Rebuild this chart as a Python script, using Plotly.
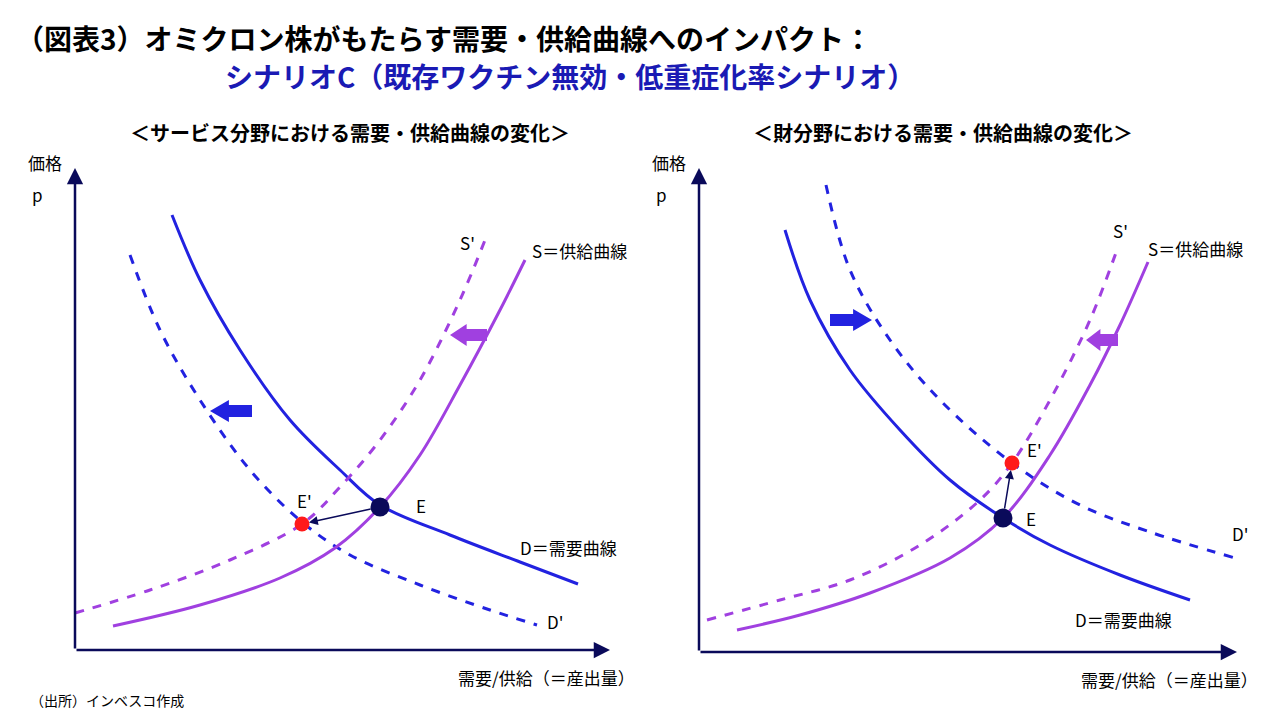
import plotly.graph_objects as go

FONT = "Noto Sans CJK JP"
BLUE = "#2222e0"
PURPLE = "#a040e0"
NAVY = "#0a0a5a"
TBLUE = "#1a1ab4"

# ---- curve data (page coordinates) ----
L_D_x = [172, 200, 240, 290, 340, 380, 450, 520, 578]
L_D_y = [215, 280, 350, 420, 470, 505, 535, 562, 584]
L_Dp_x = [130, 160, 200, 250, 302, 350, 420, 490, 537]
L_Dp_y = [255, 330, 400, 470, 522, 555, 585, 610, 625]
L_S_x = [113, 200, 280, 335, 380, 420, 460, 500, 525]
L_S_y = [626, 605, 578, 548, 507, 455, 385, 310, 260]
L_Sp_x = [75, 150, 230, 302, 340, 380, 420, 460, 487]
L_Sp_y = [613, 590, 560, 524, 487, 440, 380, 300, 235]

R_D_x = [785, 810, 850, 900, 950, 1003, 1050, 1120, 1190]
R_D_y = [230, 300, 370, 430, 480, 518, 545, 575, 600]
R_Dp_x = [826, 850, 890, 940, 1012, 1080, 1150, 1235]
R_Dp_y = [185, 270, 340, 400, 463, 505, 532, 558]
R_S_x = [737, 800, 870, 950, 1003, 1050, 1090, 1120, 1148]
R_S_y = [630, 615, 593, 558, 518, 455, 385, 325, 262]
R_Sp_x = [707, 780, 850, 920, 980, 1012, 1050, 1090, 1118]
R_Sp_y = [620, 600, 580, 545, 500, 463, 400, 320, 247]

E_pts = {"L_E": (380, 507), "L_Ep": (302, 524), "R_E": (1003, 518), "R_Ep": (1012, 463)}

# block arrows: (x_tail, x_head, y, color)
block_arrows = [(252, 210, 411, BLUE), (487, 450, 335, PURPLE),
                (830, 872, 320, BLUE), (1118, 1086, 340, PURPLE)]

fig = go.Figure()

def curve(x, y, color, dash):
    fig.add_trace(go.Scatter(x=x, y=y, mode="lines", line=dict(color=color, width=3, dash=dash, shape="spline", smoothing=1.0),
                             hoverinfo="skip", showlegend=False))

curve(L_D_x, L_D_y, BLUE, "solid")
curve(L_Dp_x, L_Dp_y, BLUE, "dash")
curve(L_S_x, L_S_y, PURPLE, "solid")
curve(L_Sp_x, L_Sp_y, PURPLE, "dash")
curve(R_D_x, R_D_y, BLUE, "solid")
curve(R_Dp_x, R_Dp_y, BLUE, "dash")
curve(R_S_x, R_S_y, PURPLE, "solid")
curve(R_Sp_x, R_Sp_y, PURPLE, "dash")

# axes arrows
for (x0, y0, x1, y1) in [(75, 650, 75, 168), (75, 650, 610, 650), (699, 652, 699, 168), (699, 652, 1237, 652)]:
    fig.add_annotation(x=x1, y=y1, ax=x0, ay=y0, xref="x", yref="y", axref="x", ayref="y",
                       showarrow=True, arrowhead=2, arrowsize=1.3, arrowwidth=2.5, arrowcolor=NAVY, text="")

# shift arrows between equilibria
for a, b in [("L_E", "L_Ep"), ("R_E", "R_Ep")]:
    (x0, y0), (x1, y1) = E_pts[a], E_pts[b]
    fig.add_annotation(x=x1, y=y1, ax=x0, ay=y0, xref="x", yref="y", axref="x", ayref="y",
                       showarrow=True, arrowhead=2, arrowsize=1.2, arrowwidth=1.5, arrowcolor=NAVY, text="",
                       standoff=7, startstandoff=8)

# equilibrium points
fig.add_trace(go.Scatter(x=[E_pts["L_E"][0], E_pts["R_E"][0]], y=[E_pts["L_E"][1], E_pts["R_E"][1]], mode="markers",
                         marker=dict(color=NAVY, size=19), hoverinfo="skip", showlegend=False))
fig.add_trace(go.Scatter(x=[E_pts["L_Ep"][0], E_pts["R_Ep"][0]], y=[E_pts["L_Ep"][1], E_pts["R_Ep"][1]], mode="markers",
                         marker=dict(color="#ff1a1a", size=15), hoverinfo="skip", showlegend=False))

# block arrows as polygons
for xt, xh, y, c in block_arrows:
    s = 1 if xh > xt else -1
    L = abs(xh - xt)
    hb = xh - s * L * 0.45
    pts = [(xt, y - 6), (hb, y - 6), (hb, y - 11), (xh, y), (hb, y + 11), (hb, y + 6), (xt, y + 6)]
    path = "M " + " L ".join(f"{px},{py}" for px, py in pts) + " Z"
    fig.add_shape(type="path", path=path, xref="x", yref="y", fillcolor=c, line=dict(width=0))

fig.add_shape(type="line", x0=0, x1=1290, y0=1, y1=1, xref="x", yref="y", line=dict(color="#888", width=1))

def txt(x, y, s, size=17, color="black", anchor="left", bold=False):
    if bold:
        s = "<b>" + s + "</b>"
    fig.add_annotation(x=x, y=y, text=s, showarrow=False, xref="x", yref="y", xanchor=anchor, yanchor="middle",
                       font=dict(family=FONT, size=size, color=color))

txt(14, 38, "（図表3）オミクロン株がもたらす需要・供給曲線へのインパクト：", 28, "black", bold=True)
txt(570, 76, "シナリオC（既存ワクチン無効・低重症化率シナリオ）", 28, TBLUE, "center", bold=True)
txt(350, 132, "＜サービス分野における需要・供給曲線の変化＞", 20, "black", "center", bold=True)
txt(943, 132, "＜財分野における需要・供給曲線の変化＞", 20, "black", "center", bold=True)

for ox in (0, 624):
    txt(26 + ox, 162, "価格", 17)
    txt(30 + ox, 194, "p", 17)
txt(637, 677, "需要/供給（＝産出量）", 17, anchor="right")
txt(1260, 679, "需要/供給（＝産出量）", 17, anchor="right")
txt(28, 700, "（出所）インベスコ作成", 14)

txt(458, 242, "S'", 17)
txt(530, 250, "S＝供給曲線", 17)
txt(518, 547, "D＝需要曲線", 17)
txt(545, 621, "D'", 17)
txt(295, 500, "E'", 17)
txt(414, 505, "E", 17)

txt(1111, 230, "S'", 17)
txt(1146, 248, "S＝供給曲線", 17)
txt(1073, 619, "D＝需要曲線", 17)
txt(1230, 533, "D'", 17)
txt(1025, 449, "E'", 17)
txt(1024, 518, "E", 17)

# the page body adds an 8px offset; shift the ranges to compensate
fig.update_layout(width=1280, height=720, margin=dict(l=0, r=0, t=0, b=0),
                  paper_bgcolor="white", plot_bgcolor="white",
                  xaxis=dict(range=[8, 1288], visible=False, fixedrange=True),
                  yaxis=dict(range=[728, 8], visible=False, fixedrange=True))
fig.write_html("out.html")
